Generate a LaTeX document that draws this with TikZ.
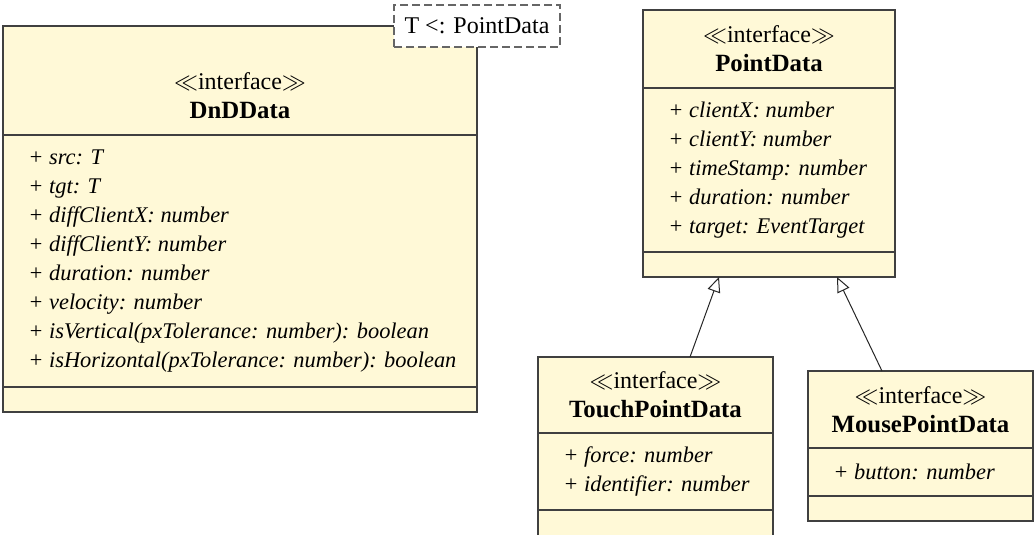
\documentclass[tikz,border=0pt]{standalone}
\usepackage{fontspec}
\setmainfont{Liberation Serif}
\usetikzlibrary{positioning,arrows.meta}
\definecolor{classfill}{RGB}{255,249,215}
\newcommand\attrfont{\fontsize{11.2}{14.5}\selectfont\itshape}
\newcommand\stereo{$\ll$interface$\gg$}
\newcommand\clname[1]{{\fontsize{12.4}{14.5}\selectfont\bfseries #1}}

\begin{document}
\begin{tikzpicture}[x=1pt,y=1pt,
    box/.style={draw=black!75,fill=classfill,line width=0.75pt,outer sep=0pt,inner sep=0pt},
    ttl/.style={align=center,inner sep=0pt,font=\fontsize{12}{14.5}\selectfont},
    attr/.style={align=left,anchor=west,inner sep=0pt,font=\attrfont},
    gen/.style={draw=black!85,line width=0.5pt,-{Triangle[open,length=7.5pt,width=6.5pt]}}]
    \useasboundingbox (0,0) rectangle (517,-267.5);

    \node(dnd-t)[box,minimum width=237pt,minimum height=54.5pt,anchor=north west] at (1.5,-13) {};
    \node(dnd-a)[box,minimum width=237pt,minimum height=126pt,below=0pt of dnd-t] {};
    \node(dnd-o)[box,minimum width=237pt,minimum height=12.5pt,below=0pt of dnd-a] {};
    \node(dnd-n)[ttl] at ([yshift=-7.75pt]dnd-t.center) {\stereo\\\clname{DnDData}};
    \node(dnd-l)[attr] at ([xshift=12.5pt]dnd-a.west) {+ src: T\\+ tgt: T\\+ diffClientX: number\\+ diffClientY: number\\+ duration: number\\+ velocity: number\\+ isVertical(pxTolerance: number): boolean\\+ isHorizontal(pxTolerance: number): boolean};
    \node(tparam)[draw=black!60,fill=white,dash pattern=on 4pt off 2pt,line width=0.6pt,minimum width=83pt,minimum height=21pt,inner sep=0pt,font=\fontsize{12}{14.5}\selectfont] at (dnd-t.north east) {T <: PointData};

    \node(pd-t)[box,minimum width=126pt,minimum height=39pt,anchor=north west] at (321.5,-5) {};
    \node(pd-a)[box,minimum width=126pt,minimum height=82pt,below=0pt of pd-t] {};
    \node(pd-o)[box,minimum width=126pt,minimum height=12.5pt,below=0pt of pd-a] {};
    \node(pd-n)[ttl] at (pd-t.center) {\stereo\\\clname{PointData}};
    \node(pd-l)[attr] at ([xshift=12.5pt]pd-a.west) {+ clientX: number\\+ clientY: number\\+ timeStamp: number\\+ duration: number\\+ target: EventTarget};

    \node(touch-t)[box,minimum width=117.5pt,minimum height=38pt,anchor=north west] at (269,-178.5) {};
    \node(touch-a)[box,minimum width=117.5pt,minimum height=38.5pt,below=0pt of touch-t] {};
    \node(touch-o)[box,minimum width=117.5pt,minimum height=14pt,below=0pt of touch-a] {};
    \node(touch-n)[ttl] at (touch-t.center) {\stereo\\\clname{TouchPointData}};
    \node(touch-l)[attr] at ([xshift=12.5pt]touch-a.west) {+ force: number\\+ identifier: number};

    \node(mouse-t)[box,minimum width=112.5pt,minimum height=38.5pt,anchor=north west] at (404,-185.5) {};
    \node(mouse-a)[box,minimum width=112.5pt,minimum height=24pt,below=0pt of mouse-t] {};
    \node(mouse-o)[box,minimum width=112.5pt,minimum height=12.5pt,below=0pt of mouse-a] {};
    \node(mouse-n)[ttl] at (mouse-t.center) {\stereo\\\clname{MousePointData}};
    \node(mouse-l)[attr] at ([xshift=12.5pt]mouse-a.west) {+ button: number};

    \draw[gen] ([xshift=17.25pt]touch-t.north) -- ([xshift=-25pt]pd-o.south);
    \draw[gen] ([xshift=-19.25pt]mouse-t.north) -- ([xshift=34pt]pd-o.south);
\end{tikzpicture}
\end{document}
